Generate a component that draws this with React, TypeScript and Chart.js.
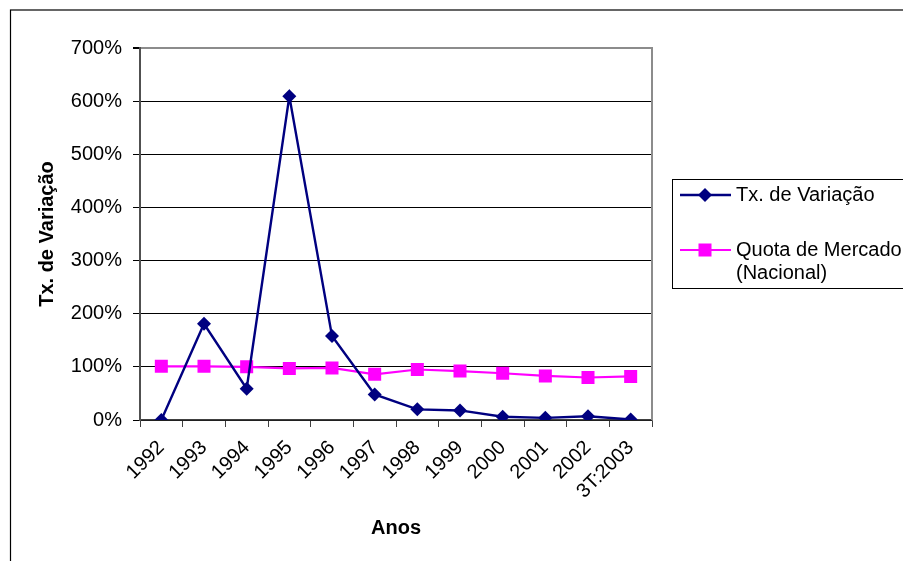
import React, { useEffect, useRef } from "react";
import { Chart, registerables } from "chart.js";

Chart.register(...registerables);

const categories = ["1992", "1993", "1994", "1995", "1996", "1997", "1998", "1999", "2000", "2001", "2002", "3T:2003"];
const txVariacao = [0, 181, 59, 609, 158, 48, 20, 18, 6, 4, 7, 1];
const quotaMercado = [101, 101, 100, 97, 98, 86, 95, 92, 88, 83, 80, 82];
const yMin = 0;
const yMax = 700;
const yStep = 100;
const seriesNames = ["Tx. de Variação", "Quota de Mercado (Nacional)"];
const legendLines = [["Tx. de Variação"], ["Quota de Mercado", "(Nacional)"]];
const xTitle = "Anos";
const yTitle = "Tx. de Variação";

const FONT = "'Liberation Sans', Arial, sans-serif";

const framePlugin = {
  id: "framePlugin",
  beforeDraw(chart: any) {
    const ctx = chart.ctx;
    ctx.save();
    ctx.fillStyle = "#ffffff";
    ctx.fillRect(0, 0, chart.width, chart.height);
    ctx.strokeStyle = "#000000";
    ctx.lineWidth = 1.2;
    ctx.strokeRect(10.5, 10, 1000, 1000);
    ctx.restore();
  },
  afterDraw(chart: any) {
    const ctx = chart.ctx;
    const a = chart.chartArea;
    ctx.save();
    // plot-area right border
    ctx.strokeStyle = "#8c8c8c";
    ctx.lineWidth = 2;
    ctx.beginPath();
    ctx.moveTo(a.right, a.top - 1);
    ctx.lineTo(a.right, a.bottom);
    ctx.stroke();
    // legend box
    ctx.strokeStyle = "#000000";
    ctx.lineWidth = 1;
    ctx.strokeRect(672.5, 179.5, 300, 109);
    const rows = [195, 250];
    ctx.font = "20px " + FONT;
    ctx.textBaseline = "middle";
    ctx.textAlign = "left";
    chart.data.datasets.forEach((ds: any, i: number) => {
      const y = rows[i];
      ctx.strokeStyle = ds.borderColor;
      ctx.lineWidth = ds.borderWidth;
      ctx.beginPath();
      ctx.moveTo(680, y);
      ctx.lineTo(731, y);
      ctx.stroke();
      ctx.fillStyle = ds.pointBackgroundColor;
      ctx.beginPath();
      if (ds.pointStyle === "rectRot") {
        const r = ds.pointRadius;
        ctx.moveTo(705, y - r);
        ctx.lineTo(705 + r, y);
        ctx.lineTo(705, y + r);
        ctx.lineTo(705 - r, y);
        ctx.closePath();
      } else {
        const s = ds.pointRadius * Math.SQRT1_2;
        ctx.rect(705 - s, y - s, 2 * s, 2 * s);
      }
      ctx.fill();
      ctx.fillStyle = "#000000";
      legendLines[i].forEach((t, k) => {
        ctx.fillText(t, 736, y + k * 23);
      });
    });
    ctx.restore();
  },
};

export default function App() {
  const ref = useRef<HTMLCanvasElement | null>(null);
  useEffect(() => {
    if (!ref.current) return;
    Chart.defaults.font.family = FONT;
    const chart = new Chart(ref.current, {
      type: "line",
      data: {
        labels: categories,
        datasets: [
          {
            label: seriesNames[0],
            data: txVariacao,
            borderColor: "#000080",
            backgroundColor: "#000080",
            pointBackgroundColor: "#000080",
            pointBorderColor: "#000080",
            pointStyle: "rectRot",
            pointRadius: 7,
            pointBorderWidth: 0,
            borderWidth: 2.4,
            tension: 0,
          },
          {
            label: seriesNames[1],
            data: quotaMercado,
            borderColor: "#ff00ff",
            backgroundColor: "#ff00ff",
            pointBackgroundColor: "#ff00ff",
            pointBorderColor: "#ff00ff",
            pointStyle: "rect",
            pointRadius: 9.2,
            pointBorderWidth: 0,
            borderWidth: 2.2,
            tension: 0,
          },
        ],
      },
      options: {
        responsive: false,
        animation: false,
        layout: { padding: { top: 48, right: 251, bottom: 0, left: 0 } },
        plugins: { legend: { display: false }, tooltip: { enabled: false } },
        scales: {
          x: {
            offset: true,
            grid: {
              offset: true,
              drawOnChartArea: false,
              drawTicks: true,
              tickLength: 7,
              tickColor: "#404040",
              color: "#404040",
            },
            border: { display: true, color: "#404040", width: 1.5 },
            ticks: {
              autoSkip: false,
              minRotation: 45,
              maxRotation: 45,
              padding: 9,
              color: "#000000",
              font: { size: 20, family: FONT },
            },
            title: {
              display: true,
              text: xTitle,
              color: "#000000",
              font: { size: 20, weight: "bold", family: FONT },
              padding: { top: 0, bottom: 21 },
            },
            afterFit(scale: any) {
              scale.height = 141;
            },
          },
          y: {
            min: yMin,
            max: yMax,
            ticks: {
              stepSize: yStep,
              padding: 11,
              color: "#000000",
              font: { size: 20, family: FONT },
              callback: (v: any) => v + "%",
            },
            grid: {
              drawTicks: true,
              tickLength: 7,
              color: (c: any) => (c.tick && c.tick.value === yMax ? "#8c8c8c" : "#000000"),
              lineWidth: (c: any) => (c.tick && c.tick.value === yMax ? 2 : 1),
              tickColor: "#000000",
            },
            border: { display: true, color: "#505050", width: 2 },
            title: {
              display: true,
              text: yTitle,
              color: "#000000",
              font: { size: 20, weight: "bold", family: FONT },
              padding: { top: 35, bottom: 0 },
            },
            afterFit(scale: any) {
              scale.width = 140;
            },
          },
        },
      },
      plugins: [framePlugin],
    } as any);
    return () => chart.destroy();
  }, []);
  return (
    <div style={{ position: "absolute", left: 0, top: 0, width: 903, height: 561 }}>
      <canvas ref={ref} width={903} height={561} style={{ display: "block" }} />
    </div>
  );
}
